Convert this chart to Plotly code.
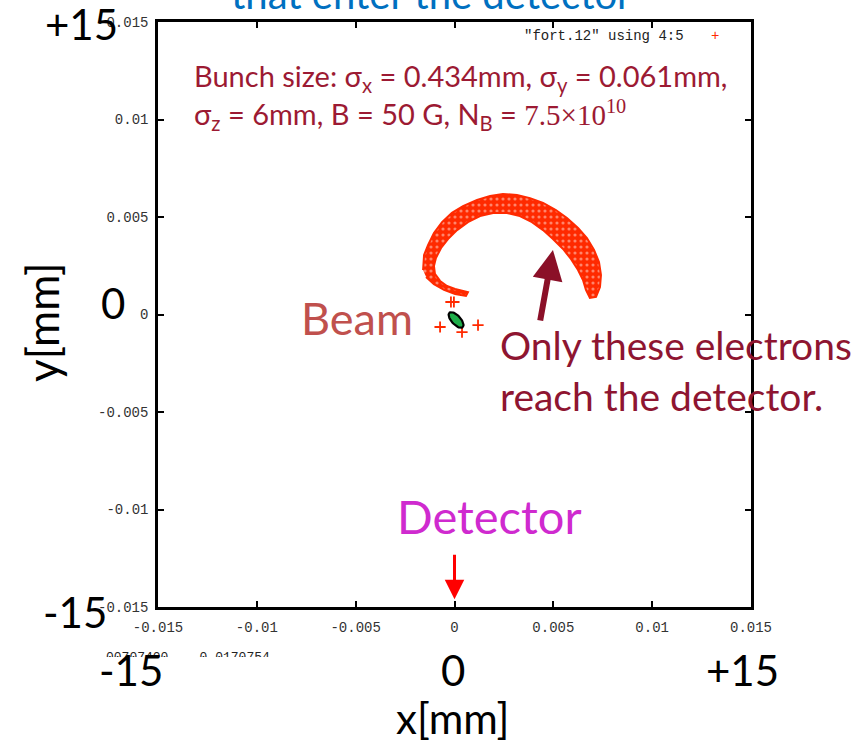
import numpy as np
import plotly.graph_objects as go

# ---- data (axis units are metres; lists below are in mm) ----
# outline of the electron cloud that reaches the detector (x, y in mm)
cloud_x_mm = [-1.59, -1.54, -1.34, -1.04, -0.63, -0.13, 0.43, 1.14, 1.80, 2.45, 3.16, 3.82,
              4.48, 5.13, 5.69, 6.25, 6.70, 7.06, 7.31, 7.41, 7.36, 7.16,
              6.85, 6.65, 6.50, 6.25, 5.89, 5.49, 4.98, 4.48, 3.92, 3.31, 2.66, 1.95,
              1.29, 0.68, 0.13, -0.33, -0.68, -0.94, -1.04, -0.99, -0.73, -0.38, 0.03,
              0.43, 0.68, 0.58, 0.03, -0.53, -1.04, -1.44]
cloud_y_mm = [2.28, 3.05, 3.56, 4.18, 4.74, 5.21, 5.56, 5.87, 6.08, 6.18, 6.13, 5.97,
              5.72, 5.36, 4.95, 4.44, 3.92, 3.31, 2.69, 2.03, 1.41, 0.90,
              0.85, 1.26, 1.77, 2.28, 2.85, 3.36, 3.87, 4.33, 4.74, 5.05, 5.21, 5.21,
              5.05, 4.74, 4.33, 3.87, 3.41, 2.90, 2.49, 2.08, 1.72, 1.46, 1.31,
              1.21, 1.15, 0.95, 1.05, 1.26, 1.56, 1.92]

# isolated electrons near the beam (mm)
stray_x_mm = [-0.73, 1.19, 0.38, -0.18, -0.03]
stray_y_mm = [-0.64, -0.54, -0.90, 0.64, 0.64]

# beam ellipse: centre, semi-axes (mm) and tilt (deg)
beam_center_mm = (0.08, -0.28)
beam_semi_mm = (0.50, 0.23)
beam_tilt_deg = -48

tick_vals = [-0.015, -0.01, -0.005, 0, 0.005, 0.01, 0.015]
tick_text = ["-0.015", "-0.01", "-0.005", "0", "0.005", "0.01", "0.015"]

MM = 1e-3
RED = "#ff2a00"

fig = go.Figure()

# dense electron cloud: solid red with a fine grid of light gaps
fig.add_trace(go.Scatter(
    x=[v * MM for v in cloud_x_mm], y=[v * MM for v in cloud_y_mm],
    mode="lines", fill="toself",
    line=dict(color=RED, width=2),
    fillpattern=dict(shape=".", fgcolor="#ffe0d8", bgcolor=RED, size=6, solidity=0.22),
    hoverinfo="skip", showlegend=False,
))

fig.add_trace(go.Scatter(
    x=[v * MM for v in stray_x_mm], y=[v * MM for v in stray_y_mm],
    mode="markers",
    marker=dict(symbol="cross-thin", size=8, line=dict(color=RED, width=1.8)),
    showlegend=False,
))

# beam outline
t = np.linspace(0, 2 * np.pi, 60)
a, b = beam_semi_mm
th = np.deg2rad(beam_tilt_deg)
ex = beam_center_mm[0] + a * np.cos(t) * np.cos(th) - b * np.sin(t) * np.sin(th)
ey = beam_center_mm[1] + a * np.cos(t) * np.sin(th) + b * np.sin(t) * np.cos(th)
fig.add_trace(go.Scatter(
    x=ex * MM, y=ey * MM, mode="lines", fill="toself",
    fillcolor="#1fae4a", line=dict(color="black", width=2.2),
    hoverinfo="skip", showlegend=False,
))

# ---- layout ----
L, R, T, B = 158, 751, 22, 607
W, H = 868, 743


def px(x):
    return (x - L) / (R - L)


def py(y):
    return (B - y) / (B - T)


CAL = "Lato, 'Open Sans', sans-serif"
MONO = "'Liberation Mono', monospace"

axis_common = dict(
    range=[-0.015, 0.015], tickvals=tick_vals, ticktext=tick_text,
    ticks="inside", ticklen=6, tickwidth=2, tickcolor="black",
    showline=True, linecolor="black", linewidth=2.5, mirror="ticks",
    showgrid=False, zeroline=False,
    tickfont=dict(family=MONO, size=14, color="#333333"),
)

fig.update_layout(
    width=W, height=H,
    margin=dict(l=L, r=W - R, t=T, b=H - B),
    paper_bgcolor="white", plot_bgcolor="white",
    xaxis=dict(**axis_common, ticklabelstandoff=5),
    yaxis=dict(**axis_common, ticklabelstandoff=4),
    showlegend=False,
)


def note(text, x, y, size, color="black", family=CAL, xanchor="center",
         yanchor="middle", **kw):
    fig.add_annotation(text=text, xref="paper", yref="paper", x=px(x), y=py(y),
                       xanchor=xanchor, yanchor=yanchor, showarrow=False,
                       font=dict(family=family, size=size, color=color), **kw)


# gnuplot key
note('"fort.12" using 4:5', 686, 36, 14, "#222222", MONO, xanchor="right")
note("+", 715, 36, 14, RED, MONO)

# pointer readout, partly hidden under the axis labels
note("00707400&nbsp;&nbsp;&nbsp;&nbsp;0.0170754", 104, 648, 13, "#222222", MONO,
     xanchor="left", yanchor="top", height=7, valign="top")

# overlay labels
note("that enter the detector", 431, -6, 40, "#0070c0")
note("+15", 81, 24, 42)
note("-15", 75, 612, 42)
note("0", 113, 303, 42)
note("y[mm]", 42, 322, 44, textangle=-90)
note("-15", 131, 670, 42)
note("0", 453, 670, 42)
note("+15", 742, 670, 42)
note("x[mm]", 452, 718, 42)

bunch = ("Bunch size: σ<sub>x</sub> = 0.434mm, σ<sub>y</sub> = 0.061mm,<br>"
         "σ<sub>z</sub> = 6mm, B = 50 G, N<sub>B</sub> = "
         "<span style='font-family:Liberation Serif'>7.5×10<sup>10</sup></span>")
note(bunch, 192, 96, 29, "#9c1a33", xanchor="left", align="left")

note("Beam", 357, 318, 45, "#c0504d")
note("Detector", 490, 516, 47, "#cf2acf")
note("Only these electrons<br>reach the detector.", 498, 370, 39, "#8e1531",
     xanchor="left", align="left")

# arrows
fig.add_annotation(x=4.98 * MM, y=3.31 * MM, xref="x", yref="y", ax=-13, ay=72,
                   text="", showarrow=True, arrowhead=2, arrowsize=1.0,
                   arrowwidth=6, arrowcolor="#8b1028")
fig.add_annotation(x=0.0, y=-0.0146, xref="x", yref="y", ax=0, ay=-46,
                   text="", showarrow=True, arrowhead=2, arrowsize=1.3,
                   arrowwidth=3, arrowcolor="#ff0000")

fig.write_html("out.html")
